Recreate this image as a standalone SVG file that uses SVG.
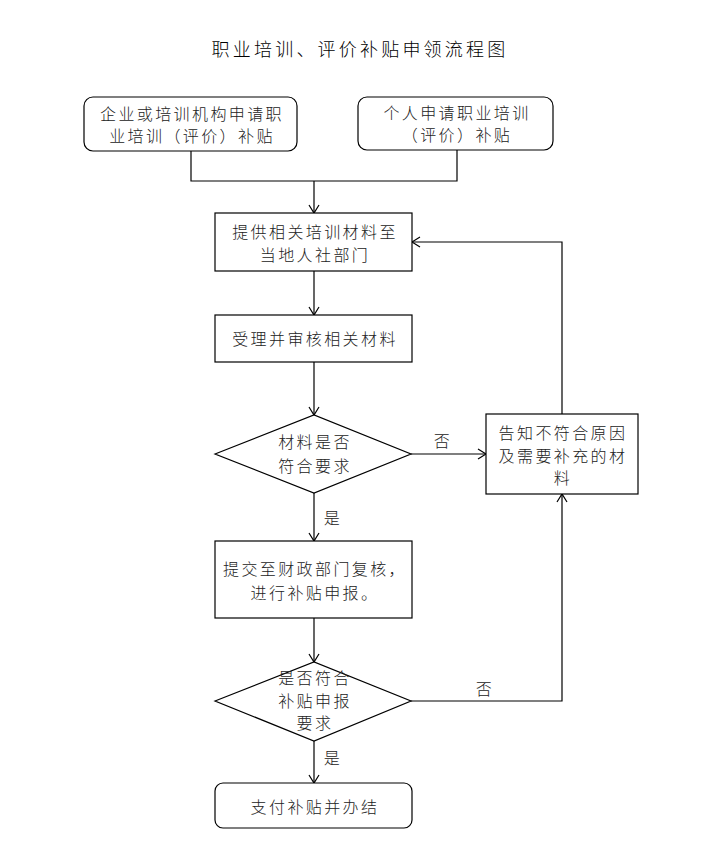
<svg xmlns="http://www.w3.org/2000/svg" width="714" height="855" viewBox="0 0 714 855">
<defs>
<style>
.n{fill:#fff;stroke:#000;stroke-width:1.2}
.t{font-family:"Noto Sans CJK SC","Noto Sans CJK JP",sans-serif;font-size:16px;font-weight:300;letter-spacing:2.4px;fill:#222;text-anchor:middle;dominant-baseline:central}
.title{font-family:"Noto Sans CJK SC",sans-serif;font-size:18px;font-weight:300;letter-spacing:3.2px;fill:#000;text-anchor:middle;dominant-baseline:central}
.c{fill:none;stroke:#000;stroke-width:1.2}
</style>
<marker id="a" markerWidth="12" markerHeight="12" refX="10" refY="6" orient="auto" markerUnits="userSpaceOnUse">
<path d="M2,1 L10,6 L2,11" fill="none" stroke="#000" stroke-width="1.2"/>
</marker>
</defs>
<rect width="714" height="855" fill="#fff"/>
<text class="title" x="360" y="48">职业培训、评价补贴申领流程图</text>
<g id="connectors">
<path class="c" d="M191,151 V181 H457 V150"/>
<path class="c" d="M314,181 V213" marker-end="url(#a)"/>
<path class="c" d="M314,271 V315" marker-end="url(#a)"/>
<path class="c" d="M314,362 V415" marker-end="url(#a)"/>
<path class="c" d="M411,454 H486" marker-end="url(#a)"/>
<path class="c" d="M562,414 V242 H412" marker-end="url(#a)"/>
<path class="c" d="M314,493 V541" marker-end="url(#a)"/>
<path class="c" d="M314,618 V662" marker-end="url(#a)"/>
<path class="c" d="M411,701 H562 V494" marker-end="url(#a)"/>
<path class="c" d="M314,741 V783" marker-end="url(#a)"/>
<text class="t" x="443" y="440">否</text>
<text class="t" x="333" y="517">是</text>
<text class="t" x="485" y="688">否</text>
<text class="t" x="333" y="757">是</text>
</g>
<g id="n1">
<rect class="n" x="84" y="97" width="213" height="54" rx="9"/>
<text class="t" x="192" y="113">企业或培训机构申请职</text>
<text class="t" x="192" y="135">业培训（评价）补贴</text>
</g>
<g id="n2">
<rect class="n" x="358" y="97" width="195" height="53" rx="9"/>
<text class="t" x="457" y="112">个人申请职业培训</text>
<text class="t" x="457" y="134">（评价）补贴</text>
</g>
<g id="n3">
<rect class="n" x="215" y="213" width="197" height="58"/>
<text class="t" x="315" y="231">提供相关培训材料至</text>
<text class="t" x="315" y="254">当地人社部门</text>
</g>
<g id="n4">
<rect class="n" x="215" y="315" width="197" height="47"/>
<text class="t" x="315" y="338">受理并审核相关材料</text>
</g>
<g id="n5">
<polygon class="n" points="215,454 314,415 411,454 314,493"/>
<text class="t" x="315" y="441">材料是否</text>
<text class="t" x="315" y="465">符合要求</text>
</g>
<g id="n6">
<rect class="n" x="486" y="414" width="152" height="80"/>
<text class="t" x="563" y="432">告知不符合原因</text>
<text class="t" x="563" y="455">及需要补充的材</text>
<text class="t" x="563" y="477">料</text>
</g>
<g id="n7">
<rect class="n" x="215" y="541" width="197" height="77"/>
<text class="t" x="315" y="568">提交至财政部门复核，</text>
<text class="t" x="315" y="592">进行补贴申报。</text>
</g>
<g id="n8">
<polygon class="n" points="215,701 314,662 411,701 314,741"/>
<text class="t" x="315" y="677">是否符合</text>
<text class="t" x="315" y="700">补贴申报</text>
<text class="t" x="315" y="722">要求</text>
</g>
<g id="n9">
<rect class="n" x="215" y="783" width="197" height="45" rx="8"/>
<text class="t" x="315" y="806">支付补贴并办结</text>
</g>
</svg>
